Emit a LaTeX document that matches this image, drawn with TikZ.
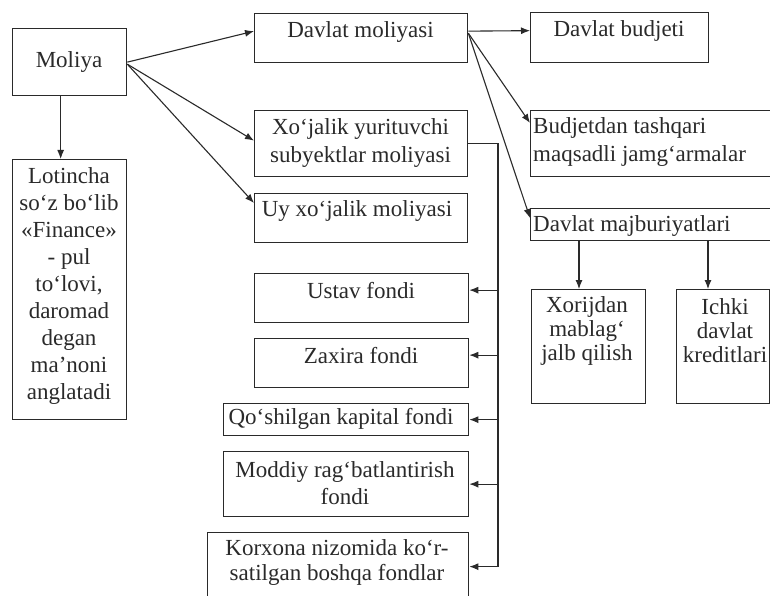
\documentclass[tikz,border=0pt]{standalone}
\usepackage{fontspec}
\setmainfont{Liberation Serif}
\usetikzlibrary{arrows.meta,calc}
\definecolor{ink}{HTML}{2A2A2A}
\begin{document}
\begin{tikzpicture}[x=1pt,y=-1pt,
  box/.style={draw=ink,line width=1.3pt,rectangle,inner sep=0pt,anchor=north west},
  txt/.style={text=ink,font=\fontsize{23}{27}\selectfont,align=center,inner sep=0pt},
  txtl/.style={text=ink,font=\fontsize{23}{28}\selectfont,align=left,inner sep=0pt,anchor=west},
  arr/.style={draw=ink,line width=1.1pt,-{Latex[length=9pt,width=7pt]}},
  ln/.style={draw=ink,line width=1.1pt}]
\fill[white] (0,0) rectangle (770,596);
\useasboundingbox (0,0) rectangle (770,596);

% boxes
\node[box,minimum width=114pt,minimum height=67pt] (mol) at (12,28) {};
\node[box,minimum width=114pt,minimum height=260pt] (lot) at (12,159) {};
\node[box,minimum width=213pt,minimum height=49pt] (dm) at (254,13) {};
\node[box,minimum width=213pt,minimum height=66pt] (xo) at (254,110) {};
\node[box,minimum width=213pt,minimum height=49pt] (uy) at (254,193) {};
\node[box,minimum width=178pt,minimum height=50pt] (db) at (530,12) {};
\node[box,minimum width=243pt,minimum height=66pt] (bt) at (530,110) {};
\node[box,minimum width=243pt,minimum height=32pt] (maj) at (530,208) {};
\node[box,minimum width=114pt,minimum height=114pt] (xor) at (531,289) {};
\node[box,minimum width=93pt,minimum height=114pt] (ich) at (676,289) {};
\node[box,minimum width=214pt,minimum height=49pt] (us) at (254,273) {};
\node[box,minimum width=214pt,minimum height=49pt] (zx) at (254,338) {};
\node[box,minimum width=245pt,minimum height=32pt] (qo) at (223,403) {};
\node[box,minimum width=245pt,minimum height=65pt] (mo) at (223,451) {};
\node[box,minimum width=261pt,minimum height=68pt] (ko) at (207,532) {};

% texts
\node[txt] (molT) at (69,62) {Moliya};
\node[txt] (lotT) at (69,286) {Lotincha\\so‘z bo‘lib\\«Finance»\\- pul\\to‘lovi,\\daromad\\degan\\ma’noni\\anglatadi};
\node[txt] (dmT) at (360.5,32) {Davlat moliyasi};
\node[txt,font=\fontsize{23}{28}\selectfont] (xoT) at (360.5,143) {Xo‘jalik yurituvchi\\subyektlar moliyasi};
\node[txt] (uyT) at (357,211) {Uy xo‘jalik moliyasi};
\node[txt] (dbT) at (619,31) {Davlat budjeti};
\node[txtl] (btT) at (533,142) {Budjetdan tashqari\\maqsadli jamg‘armalar};
\node[txtl] (majT) at (533,226) {Davlat majburiyatlari};
\node[txt,font=\fontsize{23}{24}\selectfont] (xorT) at (587,331) {Xorijdan\\mablag‘\\jalb qilish};
\node[txt,font=\fontsize{23}{24}\selectfont] (ichT) at (725,331) {Ichki\\davlat\\kreditlari};
\node[txt] (usT) at (361,291) {Ustav fondi};
\node[txt] (zxT) at (361,356) {Zaxira fondi};
\node[txt] (qoT) at (341,419) {Qo‘shilgan kapital fondi};
\node[txt] (moT) at (345,483) {Moddiy rag‘batlantirish\\fondi};
\node[txt,font=\fontsize{23}{25}\selectfont] (koT) at (337,562) {Korxona nizomida ko‘r-\\satilgan boshqa fondlar};

% connectors from Moliya
\draw[arr] (mol.east) -- ([yshift=7pt]dm.west);
\draw[arr] ([yshift=-2pt]mol.east) -- ([yshift=3pt]xo.west);
\draw[arr] ([yshift=-2pt]mol.east) -- ([yshift=-10pt]uy.north west);
\draw[arr] ([xshift=-9pt]mol.south) -- ([xshift=-9pt]lot.north);

% connectors from Davlat moliyasi
\draw[arr] ([yshift=7pt]dm.east) -- ([yshift=7pt]db.west);
\draw[arr] ([yshift=5pt]dm.east) -- ([yshift=-13pt]bt.north west);
\draw[arr] ([yshift=5pt]dm.east) -- ([yshift=-10pt]maj.north west);

% Davlat majburiyatlari
\coordinate (ax1) at (579,0);
\coordinate (ax2) at (708,0);
\draw[arr] (ax1 |- maj.south) -- (ax1 |- xor.north);
\draw[arr] (ax2 |- maj.south) -- (ax2 |- ich.north);

% bus from Xo'jalik
\coordinate (bus) at (498,0);
\coordinate (usA) at ([yshift=8pt]us.east);
\coordinate (zxA) at ([yshift=8pt]zx.east);
\draw[ln] (xo.east) -| (bus |- ko.east);
\draw[arr] (bus |- usA) -- (usA);
\draw[arr] (bus |- zxA) -- (zxA);
\draw[arr] (bus |- qo.east) -- (qo.east);
\draw[arr] (bus |- mo.east) -- (mo.east);
\draw[arr] (bus |- ko.east) -- (ko.east);
\end{tikzpicture}
\end{document}
